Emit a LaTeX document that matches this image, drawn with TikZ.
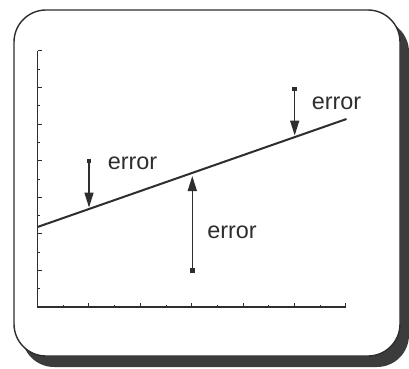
\documentclass[tikz,border=0pt]{standalone}
\usepackage{fontspec}
\setmainfont{Liberation Sans}
\usetikzlibrary{arrows.meta}
\definecolor{ink}{HTML}{2E2E2E}
\definecolor{shade}{HTML}{3C3C3C}
\tikzset{
  frame/.style={draw=ink, line width=1.4bp, fill=white, rounded corners=32bp},
  shadowbox/.style={fill=shade, rounded corners=32bp},
  axis/.style={draw=ink, line width=1.5bp},
  majortick/.style={draw=ink, line width=1bp},
  minortick/.style={draw=ink, line width=0.8bp},
  fitline/.style={draw=ink, line width=2bp},
  errarrow/.style={draw=ink, line width=1.5bp, -{Triangle[length=15bp,width=9bp]}},
  sq/.style={fill=ink, minimum size=4.5bp, inner sep=0pt, outer sep=0pt},
  lbl/.style={text=ink, font=\fontsize{23.5}{28}\selectfont, inner sep=0pt}
}
\begin{document}
\begin{tikzpicture}[x=1bp,y=-1bp]
\useasboundingbox (0,0) rectangle (409,369);
% shadow and frame
\path[shadowbox] (22,20) rectangle (409,367);
\path[frame] (14,10) rectangle (400,356);
% axes
\coordinate (o) at (37.5,307);
\coordinate (ytop) at (37.5,51);
\coordinate (xend) at (346,307);
\draw[axis] (ytop) -- (o) -- (xend);
% y ticks
\foreach \i in {0,...,14}{
  \pgfmathsetmacro{\yy}{307-\i*18.29}
  \ifodd\i
    \draw[minortick] (37.5,\yy) -- (40,\yy);
  \else
    \draw[majortick] (37.5,\yy) -- (42,\yy);
  \fi
}
% x ticks
\foreach \i in {1,...,12}{
  \pgfmathsetmacro{\xx}{37.5+\i*25.7}
  \ifodd\i
    \draw[minortick] (\xx,307) -- (\xx,305);
  \else
    \draw[majortick] (\xx,307) -- (\xx,302.5);
  \fi
}
% fitted line
\coordinate (l0) at (37.5,227);
\coordinate (l1) at (346.5,119);
\draw[fitline] (l0) -- (l1);
% error arrows
\node[sq] (s1) at (89,161) {};
\coordinate (t1) at (89,207.5);
\draw[errarrow] (s1.center) -- (t1);
\node[sq] (s2) at (192.3,270.5) {};
\coordinate (t2) at (192.3,176);
\draw[errarrow] (s2.center) -- (t2);
\node[sq] (s3) at (294.7,89) {};
\coordinate (t3) at (294.7,135.5);
\draw[errarrow] (s3.center) -- (t3);
% labels
\node[lbl] (e1) at (132.5,163) {error};
\node[lbl] (e2) at (232,232) {error};
\node[lbl] (e3) at (336.5,103) {error};
\end{tikzpicture}
\end{document}
